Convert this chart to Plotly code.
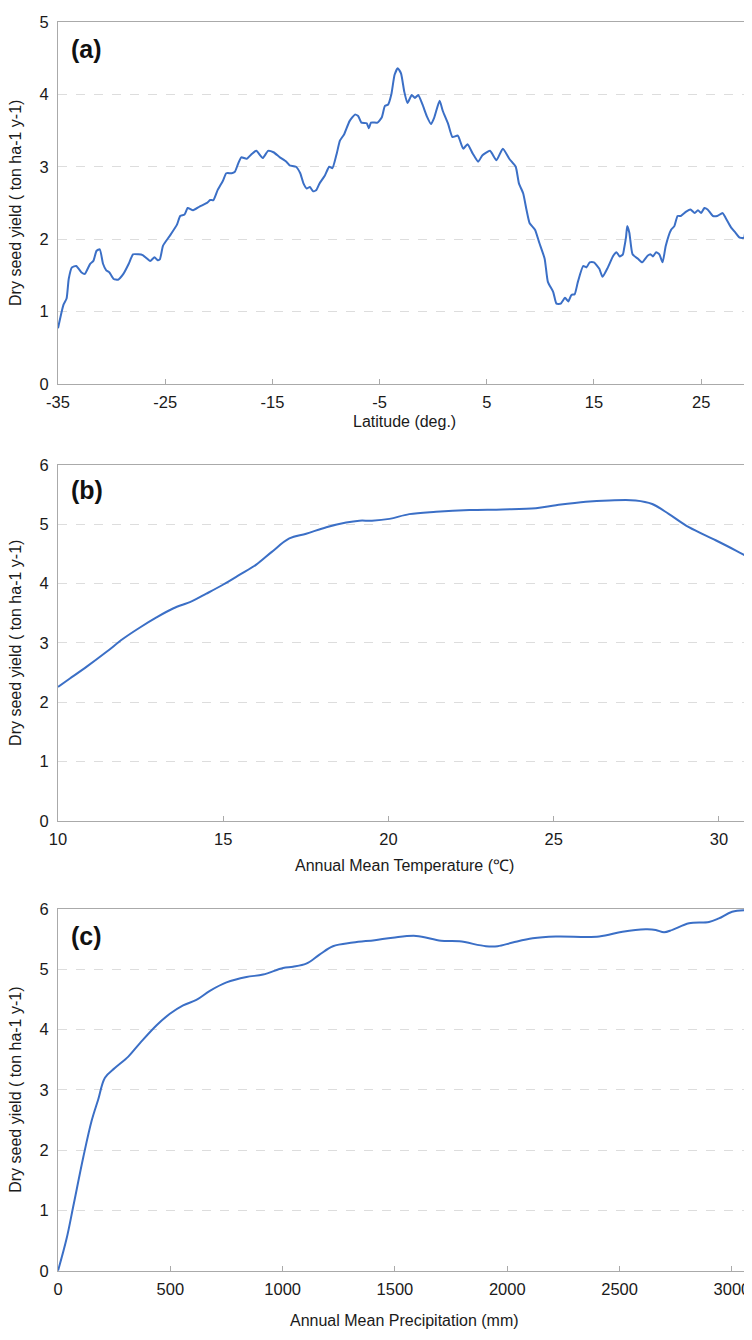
import plotly.graph_objects as go

# ---- Panel (a): yield vs latitude ----
lat = [-35.0, -34.5, -34.2, -34.0, -33.7, -33.3, -32.8, -32.5, -32.0, -31.7, -31.4, -31.1,
       -30.8, -30.5, -30.2, -29.8, -29.4, -28.9, -28.4, -28.0, -27.5, -27.1, -26.4, -26.0,
       -25.7, -25.5, -25.2, -24.6, -23.9, -23.6, -23.2, -22.9, -22.4, -21.8, -21.1, -20.8,
       -20.5, -20.1, -19.6, -19.3, -18.8, -18.5, -18.2, -17.9, -17.4, -16.9, -16.5, -15.9,
       -15.4, -14.9, -14.3, -13.7, -13.4, -12.8, -12.4, -12.1, -11.8, -11.5, -11.2, -10.9,
       -10.6, -10.1, -9.7, -9.4, -9.0, -8.7, -8.3, -7.8, -7.3, -7.0, -6.7, -6.2, -6.0, -5.8,
       -5.2, -4.8, -4.5, -4.2, -3.9, -3.6, -3.3, -3.0, -2.7, -2.4, -2.0, -1.7, -1.4, -1.0,
       -0.6, -0.2, 0.1, 0.6, 0.9, 1.4, 1.8, 2.3, 2.8, 3.2, 3.7, 4.2, 4.6, 5.3, 5.9, 6.5,
       7.1, 7.7, 8.0, 8.4, 8.7, 9.0, 9.5, 9.9, 10.4, 10.7, 11.2, 11.5, 11.9, 12.3, 12.6,
       12.9, 13.2, 13.5, 14.0, 14.3, 14.6, 15.0, 15.5, 15.8, 16.3, 16.8, 17.1, 17.4, 17.7,
       17.8, 18.0, 18.1, 18.3, 18.6, 19.1, 19.5, 20.0, 20.3, 20.5, 20.8, 21.1, 21.4, 21.7,
       22.2, 22.5, 22.8, 23.1, 23.6, 24.0, 24.4, 24.7, 25.0, 25.3, 25.6, 26.1, 26.5, 27.0,
       27.3, 27.8, 28.2, 28.6, 29.0, 29.2, 29.5, 29.7]
yield_lat = [0.77, 1.09, 1.18, 1.45, 1.61, 1.63, 1.54, 1.52, 1.66, 1.70, 1.84, 1.86,
             1.66, 1.57, 1.54, 1.45, 1.44, 1.52, 1.66, 1.79, 1.79, 1.78, 1.70, 1.75,
             1.71, 1.72, 1.91, 2.04, 2.20, 2.32, 2.34, 2.43, 2.40, 2.45, 2.50, 2.54,
             2.54, 2.68, 2.81, 2.91, 2.91, 2.93, 3.04, 3.13, 3.11, 3.18, 3.22, 3.12,
             3.22, 3.20, 3.13, 3.07, 3.02, 3.00, 2.91, 2.77, 2.70, 2.72, 2.66, 2.68,
             2.77, 2.88, 3.00, 2.98, 3.18, 3.36, 3.45, 3.63, 3.72, 3.70, 3.61, 3.60, 3.53, 3.61,
             3.61, 3.68, 3.84, 3.86, 4.00, 4.27, 4.36, 4.29, 4.04, 3.88, 3.99, 3.95, 3.99, 3.86,
             3.70, 3.59, 3.68, 3.91, 3.77, 3.59, 3.41, 3.43, 3.25, 3.31, 3.18, 3.07, 3.16, 3.22, 3.09, 3.25,
             3.11, 3.00, 2.77, 2.63, 2.41, 2.22, 2.13, 1.95, 1.73, 1.41, 1.27, 1.11, 1.11, 1.19, 1.14,
             1.23, 1.24, 1.41, 1.63, 1.61, 1.68, 1.68, 1.59, 1.48, 1.61, 1.77, 1.82, 1.76, 1.79,
             1.86, 2.04, 2.18, 2.09, 1.79, 1.73, 1.68, 1.77, 1.79, 1.76, 1.82, 1.79, 1.68, 1.91,
             2.13, 2.18, 2.32, 2.32, 2.38, 2.41, 2.36, 2.40, 2.36, 2.43, 2.41, 2.32, 2.32, 2.36,
             2.29, 2.16, 2.09, 2.02, 2.02, 2.18, 2.22, 2.38]

# ---- Panel (b): yield vs temperature ----
temp = [10.0, 10.36, 10.87, 11.47, 11.97, 12.48, 12.98, 13.48, 14.04, 14.49, 14.99, 15.5,
        16.0, 16.46, 17.0, 17.51, 18.12, 18.72, 19.12, 19.5, 20.03, 20.63, 21.44, 22.45,
        23.45, 24.46, 25.07, 25.97, 26.68, 27.48, 27.98, 28.49, 29.09, 29.9, 30.5, 30.96]
yield_temp = [2.26, 2.40, 2.60, 2.85, 3.07, 3.26, 3.43, 3.58, 3.70, 3.83, 3.98, 4.15,
              4.32, 4.53, 4.76, 4.84, 4.95, 5.03, 5.06, 5.06, 5.09, 5.17, 5.21, 5.24,
              5.25, 5.27, 5.32, 5.38, 5.40, 5.40, 5.34, 5.17, 4.95, 4.73, 4.56, 4.42]

# ---- Panel (c): yield vs precipitation ----
precip = [0, 38, 68, 113, 150, 179, 209, 253, 313, 364, 439, 498, 557, 616, 676, 750,
          839, 913, 1002, 1046, 1105, 1164, 1224, 1313, 1410, 1490, 1594, 1705, 1787,
          1905, 1957, 2024, 2113, 2216, 2409, 2513, 2616, 2661, 2698, 2735, 2809, 2898,
          2942, 3001, 3086]
yield_precip = [0.0, 0.53, 1.07, 1.89, 2.49, 2.84, 3.20, 3.36, 3.55, 3.77, 4.07, 4.26,
                4.40, 4.49, 4.64, 4.78, 4.87, 4.91, 5.02, 5.04, 5.09, 5.24, 5.38, 5.44,
                5.48, 5.52, 5.55, 5.47, 5.46, 5.38, 5.38, 5.44, 5.51, 5.54, 5.54, 5.62,
                5.66, 5.65, 5.61, 5.65, 5.76, 5.78, 5.84, 5.95, 5.98]

panel_labels = ["(a)", "(b)", "(c)"]
x_titles = ["Latitude (deg.)", "Annual Mean Temperature (\u2103)", "Annual Mean Precipitation (mm)"]
y_title = "Dry seed yield ( ton ha-1 y-1)"
x_ticks = [[-35, -25, -15, -5, 5, 15, 25], [10, 15, 20, 25, 30], [0, 500, 1000, 1500, 2000, 2500, 3000]]
y_ticks = [[0, 1, 2, 3, 4, 5], [0, 1, 2, 3, 4, 5, 6], [0, 1, 2, 3, 4, 5, 6]]
x_ranges = [[-35, 29.65], [10, 30.97], [0, 3085]]
y_ranges = [[0, 5], [0, 6], [0, 6]]

# The page body has an 8px default margin; positions below are page pixels.
OFF = 8
W, H = 752 - OFF, 1340 - OFF
ML, MR = 58 - OFF, 1
PW = W - ML - MR

def px_x(p):
    return (p - OFF - ML) / PW

def px_y(p):
    return 1 - (p - OFF) / H

# page-pixel top/bottom of each plot area
areas = [(13, 380), (462, 823), (912, 1279)]
xtitle_y = [418, 868, 1329]
label_y = [40, 487, 940]

FONT = "Liberation Sans, Arial, sans-serif"
LINE = "#3b6fc6"
TXT = "#1a1a1a"

fig = go.Figure()
datasets = [(lat, yield_lat), (temp, yield_temp), (precip, yield_precip)]
for i, (xs, ys) in enumerate(datasets):
    sfx = "" if i == 0 else str(i + 1)
    fig.add_trace(go.Scatter(x=xs, y=ys, mode="lines",
                             line=dict(color=LINE, width=2, shape="spline", smoothing=0.5 if i == 0 else 1.0),
                             xaxis="x" + sfx, yaxis="y" + sfx, showlegend=False, hoverinfo="skip"))

layout = dict(width=W, height=H, margin=dict(l=ML, r=MR, t=0, b=0),
              paper_bgcolor="white", plot_bgcolor="white",
              font=dict(family=FONT, color=TXT, size=16), showlegend=False)
annotations = []
for i in range(3):
    sfx = "" if i == 0 else str(i + 1)
    top, bot = areas[i]
    layout["xaxis" + sfx] = dict(domain=[0, 1], range=x_ranges[i], anchor="y" + sfx,
                                tickvals=x_ticks[i], ticktext=[str(v) for v in x_ticks[i]],
                                ticks="inside", ticklen=5, tickcolor="#aaaaaa", ticklabelstandoff=3,
                                showline=True, linecolor="#aaaaaa", linewidth=1.2, mirror=True,
                                showgrid=False, zeroline=False, tickfont=dict(size=16.5, color=TXT))
    layout["yaxis" + sfx] = dict(domain=[px_y(bot), px_y(top)], range=y_ranges[i], anchor="x" + sfx,
                                tickvals=y_ticks[i], ticktext=[str(v) for v in y_ticks[i]],
                                ticks="", ticklabelstandoff=5,
                                showline=True, linecolor="#aaaaaa", linewidth=1.2, mirror=True,
                                showgrid=True, gridcolor="#dddddd", griddash="dash", gridwidth=1,
                                zeroline=False, tickfont=dict(size=16.5, color=TXT))
    annotations.append(dict(text=x_titles[i], x=0.5, y=px_y(xtitle_y[i]), xref="paper", yref="paper",
                            showarrow=False, xanchor="center", yanchor="middle",
                            font=dict(size=16, color=TXT)))
    annotations.append(dict(text=y_title, x=px_x(16), y=px_y((top + bot) / 2), xref="paper", yref="paper",
                            showarrow=False, xanchor="center", yanchor="middle", textangle=-90,
                            font=dict(size=16, color=TXT)))
    annotations.append(dict(text="<b>" + panel_labels[i] + "</b>", x=px_x(69), y=px_y(label_y[i]),
                            xref="paper", yref="paper", showarrow=False, xanchor="left", yanchor="middle",
                            font=dict(size=25, color="#111111")))
layout["annotations"] = annotations
fig.update_layout(**layout)
fig.write_html("out.html")
